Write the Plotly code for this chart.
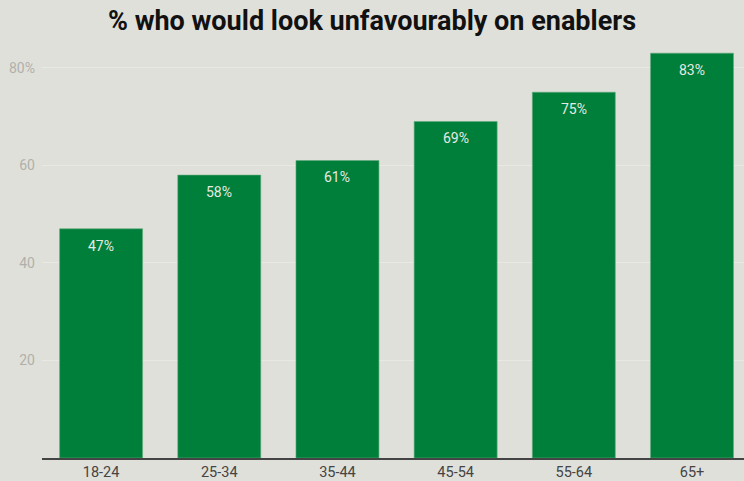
import plotly.graph_objects as go

# Age bands and share who would look unfavourably on enablers (%)
age_groups = ["18-24", "25-34", "35-44", "45-54", "55-64", "65+"]
shares = [47, 58, 61, 69, 75, 83]
y_ticks = [20, 40, 60, 80]
y_tick_text = ["20", "40", "60", "80%"]

BG = "#e0e0da"
GREEN = "#007f3a"

fig = go.Figure(
    go.Bar(
        x=age_groups,
        y=shares,
        marker=dict(color=GREEN, line=dict(color="#5fa97a", width=0.6)),
        hoverinfo="x+y",
    )
)

# value labels sitting just below the top of each bar
for cat, val in zip(age_groups, shares):
    fig.add_annotation(
        x=cat,
        y=val,
        text=f"{val}%",
        showarrow=False,
        yanchor="top",
        yshift=-7,
        font=dict(family="Roboto", size=14, color="#e6eae4"),
    )

fig.update_layout(
    width=744,
    height=481,
    margin=dict(l=42, r=0, t=41, b=23),
    paper_bgcolor=BG,
    plot_bgcolor=BG,
    bargap=0.298,
    showlegend=False,
    title=dict(
        text="<b>% who would look unfavourably on enablers</b>",
        x=0.5,
        xanchor="center",
        y=0.957,
        yanchor="middle",
        font=dict(family="Roboto", size=27, color="#111111"),
    ),
    xaxis=dict(
        range=[-0.5, 5.44],
        showgrid=False,
        showline=True,
        linecolor="#444444",
        linewidth=1.5,
        ticks="",
        tickfont=dict(family="Roboto", size=14.5, color="#444444"),
        fixedrange=True,
    ),
    yaxis=dict(
        range=[0, 85.5],
        tickvals=y_ticks,
        ticktext=y_tick_text,
        showgrid=True,
        gridcolor="#e9e9e4",
        gridwidth=1,
        zeroline=False,
        ticks="",
        ticklabelstandoff=6,
        tickfont=dict(family="Roboto", size=14, color="#b0b0ab"),
        fixedrange=True,
    ),
)

fig.write_html("out.html")
